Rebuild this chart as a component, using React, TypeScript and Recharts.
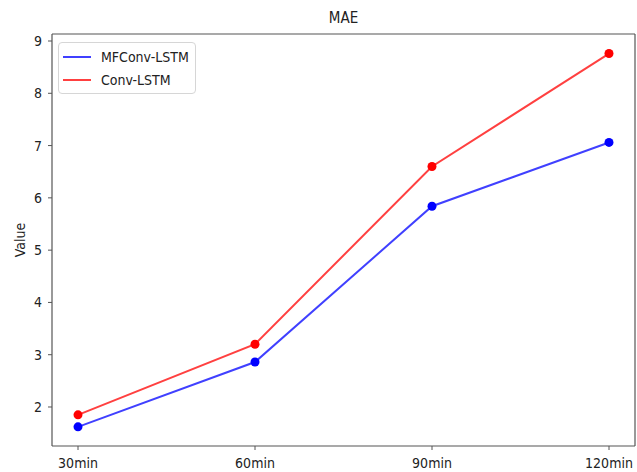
import React from 'react';
import { LineChart, Line, XAxis, YAxis } from 'recharts';

const categories = ['30min', '60min', '90min', '120min'];
const mfconvLstm = [1.62, 2.86, 5.84, 7.06];
const convLstm = [1.85, 3.2, 6.6, 8.76];
const yTicks = [2, 3, 4, 5, 6, 7, 8, 9];

const data = categories.map((name, i) => ({
  name,
  'MFConv-LSTM': mfconvLstm[i],
  'Conv-LSTM': convLstm[i],
}));

const FONT = '"DejaVu Sans Condensed", "DejaVu Sans", sans-serif';
const AXIS = '#555';
const TXT = '#222';
const DOMAIN: [number, number] = [1.254, 9.134];

const series = [
  { key: 'MFConv-LSTM', color: '#0000ff' },
  { key: 'Conv-LSTM', color: '#ff0000' },
];

const LegendBox = () => (
  <div
    style={{
      position: 'absolute',
      left: 58,
      top: 42,
      border: '1px solid #d6d6d6',
      borderRadius: 4,
      background: 'rgba(255,255,255,0.8)',
      padding: '2px 6px 2px 4px',
      fontFamily: FONT,
      fontSize: 14,
      color: TXT,
      width: 126,
      boxSizing: 'content-box',
      zIndex: 2,
    }}
  >
    {series.map((s) => (
      <div key={s.key} style={{ display: 'flex', alignItems: 'center', height: 23 }}>
        <svg width={28} height={4} style={{ marginRight: 10 }}>
          <line x1={0} y1={2} x2={28} y2={2} stroke={s.color} strokeOpacity={0.75} strokeWidth={2} />
        </svg>
        <span>{s.key}</span>
      </div>
    ))}
  </div>
);

const YLabel = () => (
  <text
    x={20}
    y={240}
    transform="rotate(-90, 20, 240)"
    textAnchor="middle"
    dominantBaseline="central"
    fontFamily={FONT}
    fontSize={14}
    fill={TXT}
  >
    Value
  </text>
);

export default function App() {
  return (
    <div style={{ position: 'absolute', left: 0, top: 0, width: 637, height: 472, background: '#fff' }}>
      <div
        style={{
          position: 'absolute',
          left: 52,
          width: 583,
          top: 9,
          textAlign: 'center',
          fontFamily: FONT,
          fontSize: 15,
          color: TXT,
        }}
      >
        MAE
      </div>
      <LegendBox />
      <LineChart width={637} height={472} data={data} margin={{ top: 33, right: 1, bottom: 0, left: 0 }}>
        <XAxis
          dataKey="name"
          padding={{ left: 26, right: 26 }}
          height={26}
          tickSize={4}
          tickMargin={8}
          axisLine={{ stroke: AXIS, strokeWidth: 1.2 }}
          tickLine={{ stroke: AXIS }}
          tick={{ fontFamily: FONT, fontSize: 14, fill: TXT }}
        />
        <XAxis
          xAxisId="top"
          orientation="top"
          dataKey="name"
          height={1}
          tick={false}
          tickLine={false}
          axisLine={{ stroke: AXIS, strokeWidth: 1.2 }}
        />
        <YAxis
          width={52}
          domain={DOMAIN}
          ticks={yTicks}
          type="number"
          allowDataOverflow
          tickSize={4}
          tickMargin={6}
          axisLine={{ stroke: AXIS, strokeWidth: 1.2 }}
          tickLine={{ stroke: AXIS }}
          tick={{ fontFamily: FONT, fontSize: 14, fill: TXT }}
          label={<YLabel />}
        />
        <YAxis
          yAxisId="right"
          orientation="right"
          width={1}
          domain={DOMAIN}
          type="number"
          tick={false}
          tickLine={false}
          axisLine={{ stroke: AXIS, strokeWidth: 1.2 }}
        />
        {series.map((s) => (
          <Line
            key={s.key}
            dataKey={s.key}
            stroke={s.color}
            strokeOpacity={0.75}
            strokeWidth={2}
            dot={{ r: 4.5, fill: s.color, stroke: s.color, strokeWidth: 0, fillOpacity: 1 }}
            activeDot={false}
            isAnimationActive={false}
          />
        ))}
      </LineChart>
    </div>
  );
}
